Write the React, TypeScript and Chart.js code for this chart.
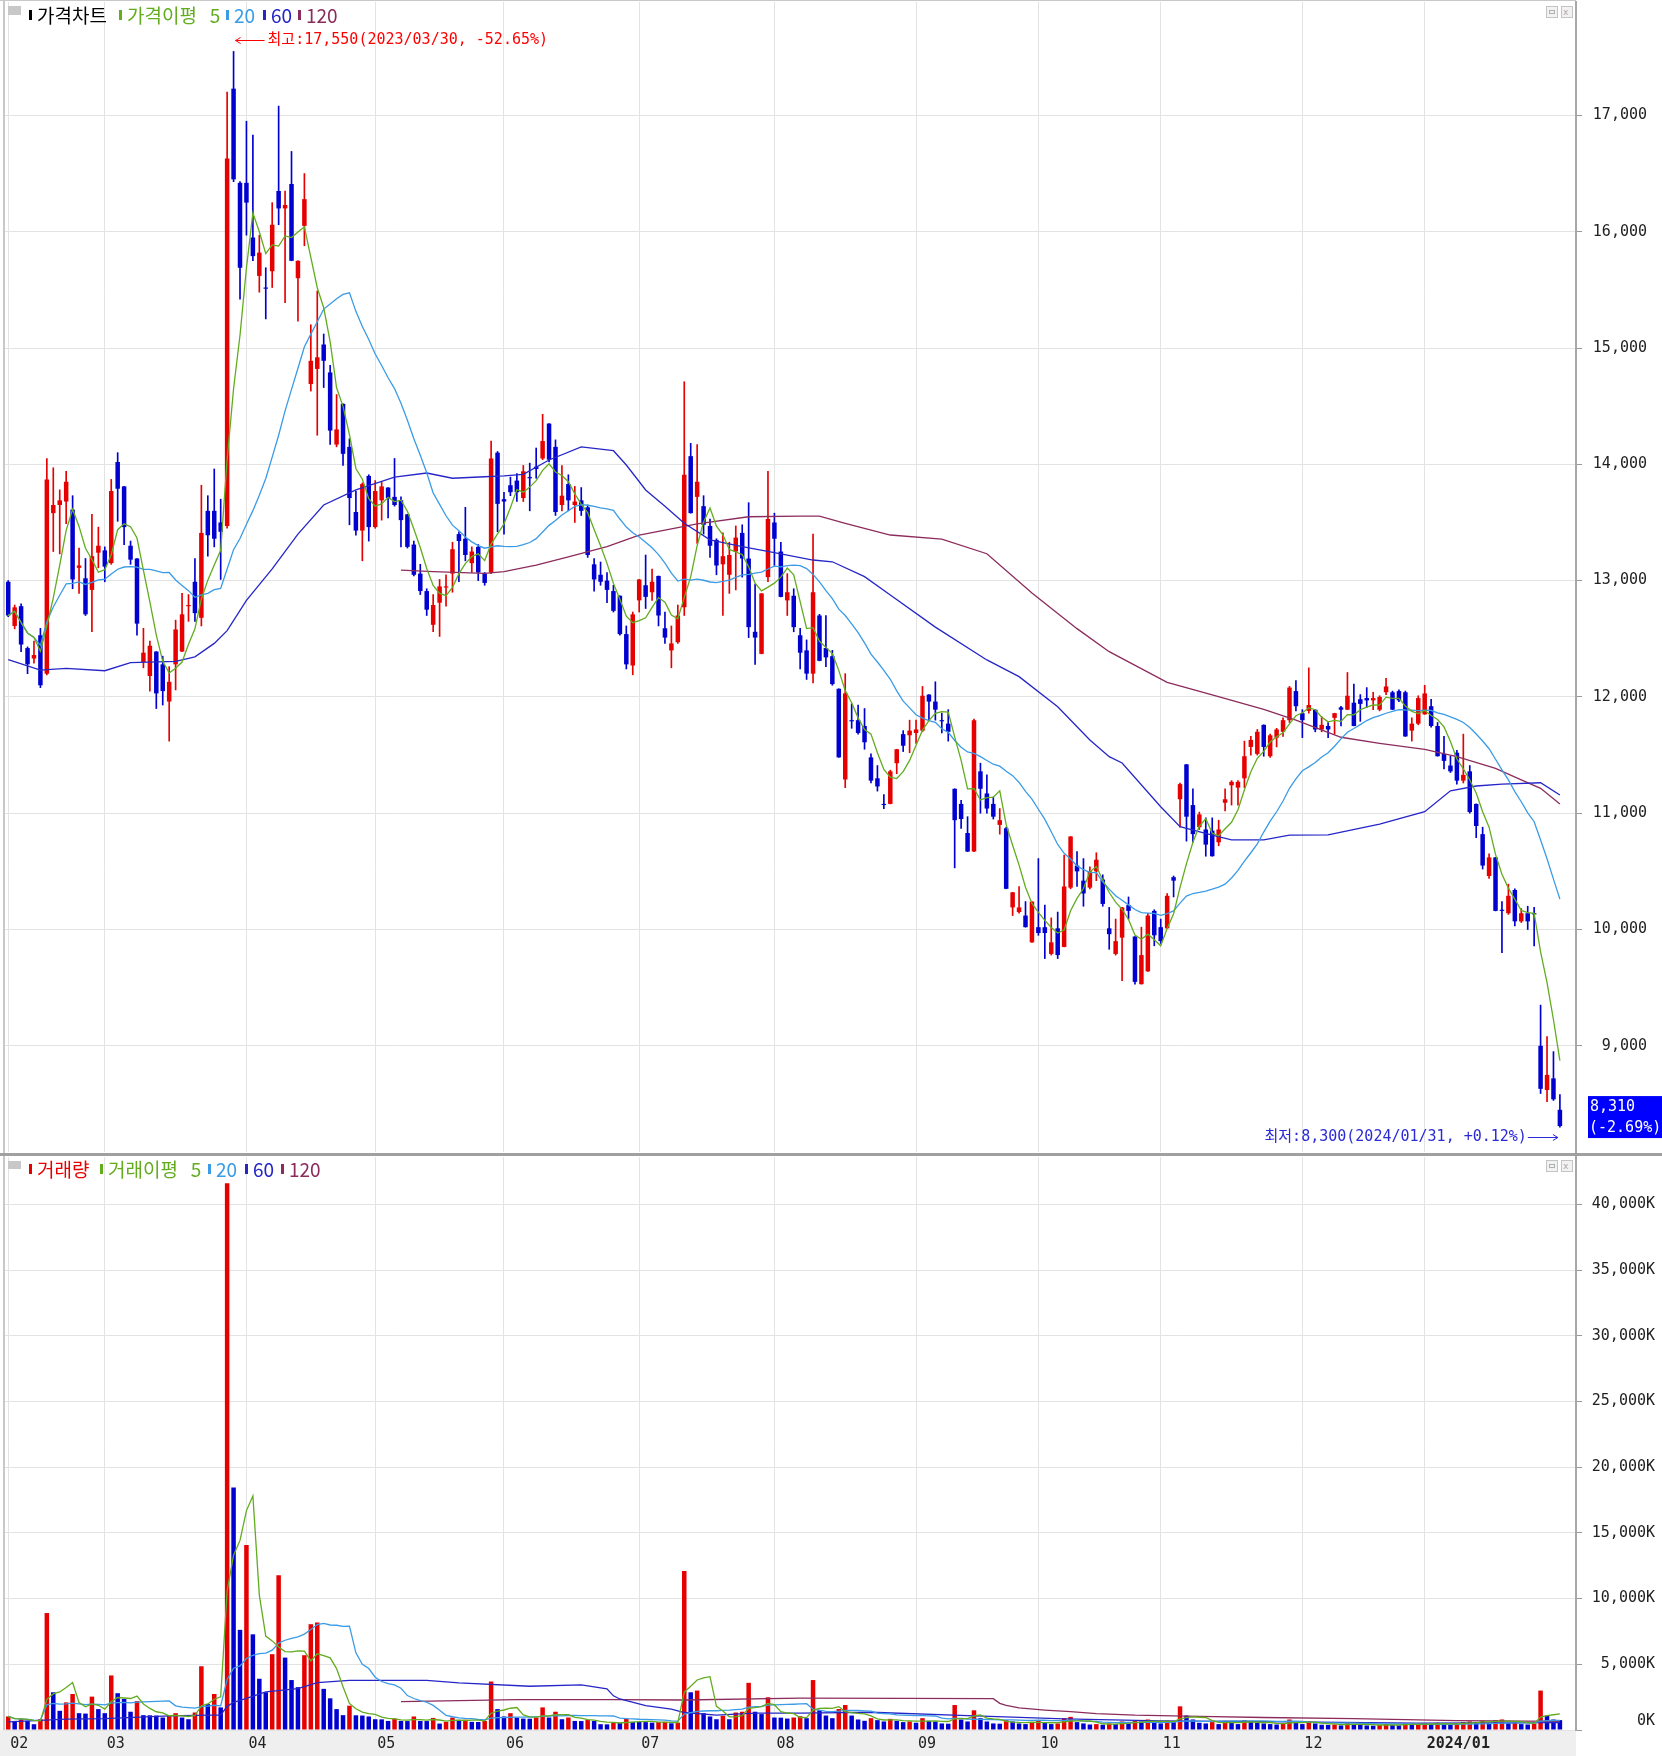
import React, { useEffect, useRef } from 'react';
import { Chart, registerables } from 'chart.js';

Chart.register(...registerables);

// ---------------- data ----------------
const monthLabels = ['02', '03', '04', '05', '06', '07', '08', '09', '10', '11', '12', '2024/01'];
const monthStartIndex = [0, 15, 37, 57, 77, 98, 119, 141, 160, 179, 201, 220];

const opens = [
  12990, 12610, 12780, 12420, 12330, 12530, 12200, 13580, 13650, 13680,
  13610, 13110, 13020, 12920, 13240, 13260, 13150, 14020, 13810, 13300,
  13190, 12300, 12180, 12390, 12280, 11960, 12280, 12390, 12780, 12990,
  12680, 13600, 13600, 13500, 13470, 17230, 16420, 16420, 15950, 15620,
  15520, 15660, 16350, 16200, 16410, 15600, 16050, 14690, 14820, 15030,
  14790, 14170, 14520, 14150, 13590, 13430, 13900, 13460, 13690, 13800,
  13720, 13690, 13570, 13310, 13060, 12910, 12620, 12810, 12940, 13060,
  13400, 13360, 13150, 13290, 13060, 13070, 14100, 13700, 13820, 13860,
  13710, 13890, 13980, 14050, 14350, 14150, 13650, 13830, 13650, 13690,
  13630, 13140, 13050, 13000, 12910, 12870, 12540, 12270, 12830, 12960,
  12900, 13040, 12590, 12400, 12470, 12770, 14070, 13720, 13640, 13470,
  13350, 13140, 13050, 13250, 13410, 13190, 12560, 12370, 13030, 13500,
  13250, 12830, 12870, 12530, 12400, 12200, 12700, 12420, 12350, 12070,
  11290, 11800, 11800, 11750, 11480, 11300, 11080, 11080, 11430, 11680,
  11670, 11690, 11710, 12020, 11960, 11800, 11770, 11210, 11080, 10830,
  10670, 11360, 11170, 11080, 10900, 10870, 10190, 10150, 10120, 9890,
  10020, 10020, 9790, 10010, 9850, 10360, 10550, 10420, 10360, 10500,
  10430, 10010, 9790, 9930, 10210, 9940, 9530, 9640, 10160, 10020,
  10010, 10450, 11120, 11420, 11070, 10880, 10860, 10850, 10750, 11090,
  11240, 11220, 11300, 11570, 11510, 11760, 11490, 11650, 11700, 11800,
  12050, 11860, 11880, 11890, 11720, 11750, 11820, 11910, 11890, 11950,
  11980, 11990, 11970, 11890, 12040, 12040, 12050, 12040, 11710, 11770,
  11850, 11920, 11750, 11510, 11410, 11520, 11280, 11360, 11080, 10820,
  10460, 10620, 10170, 10140, 10340, 10070, 10140, 10140, 9000, 8620,
  8720, 8450,
];

const highs = [
  13000, 12790, 12800, 12430, 12480, 12590, 14050, 13970, 13780, 13940,
  13730, 13280, 13190, 13570, 13460, 13290, 13870, 14100, 13810, 13340,
  13190, 12590, 12480, 12390, 12350, 12260, 12660, 12890, 12880, 13190,
  13820, 13730, 13960, 13700, 17200, 17550, 16430, 16950, 16830, 15970,
  15690, 16250, 17080, 16350, 16690, 15750, 16500, 15200, 15490, 15120,
  14850, 14600, 14520, 14220, 13770, 13840, 13910, 13860, 13850, 13800,
  14050, 13720, 13570, 13340, 13140, 12930, 12880, 13010, 13050, 13330,
  13420, 13630, 13290, 13310, 13070, 14200, 14110, 13760, 13890, 13920,
  13990, 14010, 14140, 14430, 14350, 14210, 13990, 13910, 13810, 13800,
  13650, 13190, 13160, 13070, 12960, 12870, 12610, 12730, 13010, 13220,
  13100, 13040, 12730, 12610, 12790, 14710, 14180, 14170, 13730, 13530,
  13360, 13410, 13330, 13470, 13480, 13670, 12970, 12890, 13940, 13580,
  13330, 13060, 12930, 12590, 12490, 13400, 12710, 12700, 12400, 12070,
  12200, 11940, 11930, 11900, 11510, 11410, 11160, 11370, 11550, 11710,
  11800, 11800, 12090, 12020, 12130, 11860, 11890, 11210, 11110, 10970,
  11810, 11430, 11330, 11140, 11040, 10880, 10320, 10370, 10240, 10240,
  10610, 10210, 10100, 10150, 10640, 10800, 10670, 10610, 10540, 10660,
  10470, 10190, 10090, 10190, 10280, 9940, 10020, 10140, 10170, 10090,
  10310, 10460, 11260, 11420, 11210, 11010, 10960, 10960, 10940, 11210,
  11280, 11280, 11620, 11660, 11720, 11760, 11680, 11730, 11820, 12090,
  12140, 11890, 12250, 11890, 11830, 11780, 11860, 11920, 12210, 12110,
  12020, 12080, 12040, 12010, 12160, 12050, 12060, 12050, 11820, 12010,
  12100, 11980, 11780, 11660, 11490, 11540, 11680, 11410, 11080, 10880,
  10650, 10620, 10240, 10390, 10350, 10180, 10200, 10190, 9350, 9080,
  8950, 8580,
];

const lows = [
  12690, 12585, 12390, 12200, 12290, 12080, 12190, 13250, 13230, 13490,
  12930, 12890, 12700, 12560, 13110, 12990, 13140, 13510, 13310, 13140,
  12530, 12250, 12050, 11900, 11930, 11620, 12060, 12390, 12650, 12650,
  12610, 13210, 13290, 13010, 13450, 16430, 15420, 15970, 15750, 15480,
  15250, 15520, 16060, 15390, 15750, 15230, 15880, 14630, 14250, 14660,
  14170, 14150, 13990, 13480, 13390, 13170, 13340, 13450, 13520, 13540,
  13640, 13290, 13280, 13040, 12880, 12700, 12560, 12520, 12780, 12900,
  12990, 13170, 13070, 13000, 12960, 13060, 13420, 13400, 13730, 13680,
  13680, 13600, 13880, 14040, 14020, 13560, 13600, 13600, 13500, 13560,
  13200, 12910, 12960, 12810, 12730, 12530, 12240, 12190, 12730, 12760,
  12830, 12610, 12460, 12250, 12460, 12700, 13580, 13320, 13400, 13200,
  13050, 12700, 12890, 12920, 13030, 12510, 12280, 12370, 12990, 13130,
  12860, 12700, 12560, 12240, 12150, 12120, 12310, 12260, 12100, 11480,
  11220, 11730, 11680, 11550, 11260, 11190, 11040, 11080, 11340, 11530,
  11520, 11600, 11700, 11800, 11800, 11690, 11620, 10530, 10870, 10670,
  10670, 11000, 11000, 10950, 10820, 10350, 10120, 10140, 10020, 9890,
  9950, 9750, 9780, 9750, 9850, 10350, 10370, 10200, 10350, 10420,
  10200, 9830, 9780, 9560, 10090, 9530, 9530, 9640, 9860, 9880,
  10010, 10280, 10880, 10760, 10750, 10860, 10630, 10630, 10720, 11020,
  11070, 11070, 11220, 11500, 11500, 11490, 11480, 11570, 11660, 11780,
  11880, 11650, 11860, 11700, 11700, 11650, 11680, 11750, 11890, 11750,
  11790, 11910, 11890, 11880, 12020, 11890, 11960, 11660, 11620, 11760,
  11850, 11740, 11490, 11380, 11350, 11250, 11260, 11000, 10790, 10520,
  10440, 10160, 9800, 10130, 10030, 10060, 10000, 9860, 8590, 8520,
  8530, 8300,
];

const closes = [
  12700, 12770, 12450, 12280, 12360, 12100, 13870, 13650, 13690, 13850,
  13010, 13130, 12710, 13210, 13300, 13120, 13770, 13790, 13460, 13180,
  12630, 12380, 12440, 12030, 12050, 12130, 12580, 12710, 12790, 12720,
  13410, 13390, 13360, 13420, 16630, 16450, 15690, 16250, 15790, 15820,
  15510, 16060, 16200, 16230, 15750, 15750, 16280, 14890, 14920, 14890,
  14290, 14300, 14090, 13710, 13430, 13830, 13460, 13770, 13810, 13710,
  13650, 13520, 13290, 13050, 12910, 12750, 12790, 12950, 12950, 13270,
  13340, 13220, 13250, 13070, 12980, 14050, 13660, 13680, 13760, 13760,
  13940, 13880, 13960, 14200, 14040, 13590, 13730, 13690, 13680, 13600,
  13220, 13010, 12990, 12920, 12740, 12540, 12280, 12710, 13010, 12860,
  12990, 12700, 12510, 12460, 12700, 13910, 13580, 13850, 13480, 13300,
  13130, 13210, 13220, 13370, 13190, 12600, 12510, 12890, 13530, 13360,
  12860, 12900, 12600, 12380, 12200, 12900, 12310, 12340, 12110, 11480,
  12030, 11790, 11690, 11610, 11280, 11230, 11070, 11360, 11550, 11580,
  11710, 11720, 12010, 11960, 11890, 11790, 11700, 10940, 10950, 10670,
  11800, 11210, 11040, 10970, 10940, 10350, 10320, 10190, 10020, 10240,
  9970, 9970, 9890, 9780, 10370, 10800, 10500, 10310, 10500, 10600,
  10220, 9960, 9900, 10190, 10160, 9550, 9780, 10120, 9950, 9900,
  10290, 10420, 11250, 10970, 10820, 10990, 10730, 10630, 10860, 11120,
  11270, 11270, 11490, 11630, 11700, 11570, 11670, 11720, 11800, 12080,
  11920, 11800, 11930, 11720, 11760, 11720, 11860, 11890, 12010, 11750,
  11940, 11970, 11990, 12000, 12090, 11890, 11970, 11660, 11770, 11990,
  12030, 11750, 11490, 11450, 11360, 11280, 11330, 11010, 10890, 10550,
  10620, 10160, 10160, 10290, 10070, 10140, 10070, 10130, 8630, 8750,
  8540, 8310,
];

// volume in thousands of shares
const volumes = [
  1030, 690, 820, 690, 440, 820, 8900, 2870, 1460, 2100,
  2740, 1280, 1250, 2540, 1590, 1280, 4150, 2800, 2360, 1390,
  2200, 1130, 1120, 1100, 950, 1130, 1280, 950, 820, 1330,
  4850, 1970, 2740, 1720, 41600, 18460, 7620, 14080, 7280, 3900,
  2870, 5770, 11770, 5510, 3800, 3260, 5690, 8050, 8180, 3130,
  2410, 1590, 1130, 1850, 1120, 1100, 1030, 820, 810, 690,
  870, 690, 680, 1030, 690, 680, 920, 490, 620, 950,
  770, 780, 620, 610, 690, 3690, 1590, 1030, 1280, 950,
  870, 860, 950, 1720, 950, 1390, 820, 950, 690, 680,
  770, 690, 440, 430, 560, 550, 870, 620, 610, 600,
  560, 610, 620, 510, 560, 12100, 2870, 3000, 1280, 1030,
  820, 1080, 820, 1330, 1390, 3590, 1390, 1210, 2490, 950,
  940, 870, 950, 1050, 900, 3800, 1500, 1100, 900, 1600,
  1900, 1100, 800, 700, 900, 750, 650, 850, 700, 600,
  650, 550, 900, 700, 650, 500, 480, 1900, 800, 650,
  1500, 900, 650, 500, 480, 750, 650, 500, 450, 600,
  700, 550, 450, 500, 900, 1000, 600, 500, 420, 450,
  400, 500, 450, 650, 500, 700, 650, 800, 600, 500,
  700, 600, 1800, 1100, 800, 550, 500, 600, 450, 700,
  600, 450, 750, 600, 550, 500, 450, 420, 500, 800,
  600, 450, 650, 500, 400, 380, 420, 350, 550, 450,
  400, 350, 330, 380, 450, 400, 350, 500, 420, 450,
  500, 420, 550, 480, 400, 520, 600, 650, 600, 700,
  550, 750, 800, 550, 600, 450, 420, 480, 3000, 1100,
  800, 750,
];

// long moving averages (trading-day number, value)
const priceMa60Day = [1, 6, 10, 16, 20, 27, 30, 33, 35, 38, 42, 46, 50, 55, 61, 66, 70, 75, 78, 81, 85, 90, 95, 97, 100, 103, 106, 110, 115, 120, 126, 129, 134, 138, 145, 153, 158, 164, 169, 172, 174, 180, 183, 188, 191, 196, 200, 206, 214, 221, 225, 229, 233, 239, 242];
const priceMa60Value = [12320, 12230, 12245, 12225, 12295, 12305, 12345, 12460, 12570, 12830, 13100, 13400, 13650, 13780, 13890, 13925, 13880, 13893, 13900, 13914, 14037, 14150, 14117, 13994, 13779, 13640, 13493, 13350, 13292, 13240, 13177, 13162, 13034, 12876, 12600, 12318, 12174, 11916, 11630, 11486, 11432, 11056, 10884, 10812, 10770, 10770, 10812, 10813, 10907, 11013, 11193, 11234, 11250, 11262, 11157];

const priceMa120Day = [62, 67, 75, 78, 83, 88, 94, 99, 103, 108, 116, 124, 127, 131, 138, 146, 153, 160, 167, 172, 181, 188, 196, 201, 208, 214, 221, 226, 232, 236, 239, 242];
const priceMa120Value = [13090, 13077, 13063, 13077, 13134, 13205, 13292, 13392, 13435, 13487, 13549, 13555, 13555, 13493, 13392, 13356, 13231, 12894, 12587, 12389, 12125, 12017, 11893, 11801, 11653, 11601, 11549, 11486, 11386, 11286, 11214, 11079];

const volumeMa60Day = [1, 10, 16, 26, 32, 34, 35, 36, 38, 41, 46, 49, 54, 66, 71, 82, 90, 94, 95, 96, 100, 104, 106, 111, 117, 124, 135, 150, 165, 180, 200, 220, 242];
const volumeMa60Value = [615, 820, 872, 1077, 1128, 1130, 1800, 2100, 2400, 2900, 3150, 3600, 3770, 3770, 3590, 3330, 3430, 3130, 2600, 2360, 1850, 1590, 1330, 1130, 1280, 1280, 1350, 1100, 850, 700, 620, 520, 560];

const volumeMa120Day = [62, 80, 95, 106, 124, 140, 154, 155, 156, 158, 162, 166, 170, 176, 186, 196, 210, 226, 242];
const volumeMa120Value = [2154, 2308, 2308, 2282, 2420, 2400, 2380, 2030, 1880, 1680, 1520, 1400, 1250, 1130, 1040, 950, 860, 720, 650];

const priceTicks = [9000, 10000, 11000, 12000, 13000, 14000, 15000, 16000, 17000];
const volumeTicks = [0, 5000, 10000, 15000, 20000, 25000, 30000, 35000, 40000];
const highDate = '2023/03/30';
const lowDate = '2024/01/31';

// ---------------- styles ----------------
const W = 1662;
const PRICE_H = 1153;
const VOL_TOP = 1156;
const VOL_H = 600;
const AXIS_W = 86;
const PRICE_PAD_R = 15;
const VOL_PAD_R = 7;
const SLOTS = 244;
const UP = '#e60000';
const DOWN = '#0000d0';
const C_MA5 = '#62ac1e';
const C_MA20 = '#3a9be6';
const C_MA60 = '#2626c8';
const C_MA120 = '#8c2c5c';
const GRID = '#e3e3e3';
const MONO = "'DejaVu Sans Mono', 'Noto Sans CJK KR', monospace";
const KR = "'Noto Sans CJK KR', 'Noto Sans', sans-serif";

const fmt = (v: number) => v.toLocaleString('en-US');
const pct = (a: number, b: number) => {
  const p = (a / b - 1) * 100;
  return (p >= 0 ? '+' : '') + p.toFixed(2) + '%';
};

function movingAverage(values: number[], n: number) {
  return values.map((_, i) => {
    const s = Math.max(0, i - n + 1);
    let sum = 0;
    for (let k = s; k <= i; k++) sum += values[k];
    return sum / (i - s + 1);
  });
}

function sparseLine(days: number[], vals: number[], len: number) {
  const arr: (number | null)[] = new Array(len).fill(null);
  days.forEach((d, j) => { arr[d - 1] = vals[j]; });
  return arr;
}

const labels = Array.from({ length: SLOTS }, (_, i) => String(i));

const xGrid = {
  display: true,
  offset: false,
  drawTicks: false,
  lineWidth: 1,
  color: (c: any) => (monthStartIndex.includes(c.index) ? GRID : 'rgba(0,0,0,0)'),
};

const zeroPad = (s: any) => {
  s.paddingTop = 0;
  s.paddingBottom = 0;
  s.paddingLeft = 0;
  s.paddingRight = 0;
};

const lineDs = (label: string, data: any[], color: string) => ({
  type: 'line' as const,
  label,
  data,
  borderColor: color,
  borderWidth: 1.3,
  pointRadius: 0,
  tension: 0,
  spanGaps: true,
  order: 0,
});

function drawArrow(ctx: CanvasRenderingContext2D, fromX: number, toX: number, y: number) {
  const yy = Math.round(y) + 0.5;
  const dir = toX > fromX ? 1 : -1;
  ctx.beginPath();
  ctx.moveTo(fromX, yy);
  ctx.lineTo(toX, yy);
  ctx.moveTo(toX, yy);
  ctx.lineTo(toX - dir * 5, yy - 3);
  ctx.moveTo(toX, yy);
  ctx.lineTo(toX - dir * 5, yy + 3);
  ctx.stroke();
}

const priceDecor = {
  id: 'priceDecor',
  afterDraw(chart: any) {
    const { ctx, chartArea, scales } = chart;
    const xs = scales.x;
    const ys = scales.y;
    ctx.save();
    ctx.fillStyle = '#c8c8c8';
    ctx.fillRect(3, 0, 2, chartArea.bottom + 1);
    ctx.fillRect(0, 0, chartArea.right, 1);

    const hi = Math.max(...highs);
    const hiIdx = highs.indexOf(hi);
    const lo = Math.min(...lows);
    const loIdx = lows.indexOf(lo);
    const last = closes[closes.length - 1];
    const prev = closes[closes.length - 2];

    ctx.font = `15px ${MONO}`;
    ctx.textBaseline = 'middle';
    ctx.lineWidth = 1;

    const hx = xs.getPixelForValue(hiIdx);
    const hy = ys.getPixelForValue(hi) - 11;
    ctx.strokeStyle = '#ff0000';
    ctx.fillStyle = '#ff0000';
    drawArrow(ctx, hx + 31, hx + 2, hy);
    ctx.textAlign = 'left';
    ctx.fillText(`최고:${fmt(hi)}(${highDate}, ${pct(last, hi)})`, hx + 34, hy);

    const lx = xs.getPixelForValue(loIdx);
    const ly = ys.getPixelForValue(lo) + 10;
    ctx.strokeStyle = '#2a2ad6';
    ctx.fillStyle = '#2a2ad6';
    drawArrow(ctx, lx - 32, lx - 2, ly);
    ctx.textAlign = 'right';
    ctx.fillText(`최저:${fmt(lo)}(${lowDate}, ${pct(last, lo)})`, lx - 33, ly);

    const cy = ys.getPixelForValue(last);
    const bx = chartArea.right + 12;
    ctx.fillStyle = '#0000ff';
    ctx.fillRect(bx, cy - 30, W - bx, 42);
    ctx.fillStyle = '#ffffff';
    ctx.textAlign = 'left';
    ctx.fillText(fmt(last), bx + 2, cy - 19);
    ctx.fillText(`(${pct(last, prev)})`, bx + 1, cy + 2);
    ctx.restore();
  },
};

const volumeDecor = {
  id: 'volumeDecor',
  beforeDraw(chart: any) {
    const { ctx, chartArea, height } = chart;
    ctx.save();
    ctx.fillStyle = '#efefef';
    ctx.fillRect(0, chartArea.bottom, chartArea.right, height - chartArea.bottom);
    ctx.restore();
  },
  afterDraw(chart: any) {
    const { ctx, chartArea } = chart;
    ctx.save();
    ctx.fillStyle = '#c8c8c8';
    ctx.fillRect(3, 0, 2, chartArea.bottom);
    ctx.restore();
  },
};

function PriceChart() {
  const ref = useRef<HTMLCanvasElement>(null);
  useEffect(() => {
    const candleColor = (c: any) => (closes[c.dataIndex] >= opens[c.dataIndex] ? UP : DOWN);
    const chart = new Chart(ref.current as HTMLCanvasElement, {
      type: 'bar',
      data: {
        labels,
        datasets: [
          lineDs('5', movingAverage(closes, 5), C_MA5),
          lineDs('20', movingAverage(closes, 20), C_MA20),
          lineDs('60', sparseLine(priceMa60Day, priceMa60Value, closes.length), C_MA60),
          lineDs('120', sparseLine(priceMa120Day, priceMa120Value, closes.length), C_MA120),
          {
            type: 'bar',
            label: 'body',
            data: opens.map((o, i) => [o, closes[i]]),
            backgroundColor: candleColor,
            borderWidth: 0,
            barPercentage: 0.7,
            categoryPercentage: 1,
            minBarLength: 1,
            grouped: false,
            order: 1,
          },
          {
            type: 'bar',
            label: 'wick',
            data: lows.map((l, i) => [l, highs[i]]),
            backgroundColor: candleColor,
            borderWidth: 0,
            barThickness: 1,
            grouped: false,
            order: 2,
          },
        ] as any,
      },
      options: {
        animation: false,
        responsive: false,
        maintainAspectRatio: false,
        devicePixelRatio: 1,
        events: [],
        layout: { padding: { left: 5, right: PRICE_PAD_R, top: 2, bottom: 1 } },
        plugins: { legend: { display: false }, tooltip: { enabled: false } },
        scales: {
          x: {
            type: 'category',
            offset: true,
            grid: xGrid as any,
            border: { display: false },
            ticks: { display: false },
            afterFit: (s: any) => { s.height = 0; zeroPad(s); },
          },
          y: {
            position: 'right',
            min: 8087,
            max: 17975,
            afterBuildTicks: (s: any) => { s.ticks = priceTicks.map((v) => ({ value: v })); },
            afterFit: (s: any) => { s.width = AXIS_W - PRICE_PAD_R; zeroPad(s); },
            ticks: {
              font: { family: MONO, size: 15 },
              color: '#222',
              padding: 0,
              crossAlign: 'far',
              callback: (v: any) => fmt(Number(v)),
            },
            grid: { color: GRID, tickColor: '#9a9a9a', tickLength: 6, drawTicks: true },
            border: { display: true, color: '#a8a8a8', width: 2 },
          },
        },
      } as any,
      plugins: [priceDecor],
    });
    return () => chart.destroy();
  }, []);
  return (
    <canvas
      ref={ref}
      width={W}
      height={PRICE_H}
      style={{ position: 'absolute', left: 0, top: 0, width: W, height: PRICE_H, display: 'block' }}
    />
  );
}

function VolumeChart() {
  const ref = useRef<HTMLCanvasElement>(null);
  useEffect(() => {
    const volColors = volumes.map((v, i) => (i === 0 || v > volumes[i - 1] ? UP : DOWN));
    const chart = new Chart(ref.current as HTMLCanvasElement, {
      type: 'bar',
      data: {
        labels,
        datasets: [
          lineDs('5', movingAverage(volumes, 5), C_MA5),
          lineDs('20', movingAverage(volumes, 20), C_MA20),
          lineDs('60', sparseLine(volumeMa60Day, volumeMa60Value, volumes.length), C_MA60),
          lineDs('120', sparseLine(volumeMa120Day, volumeMa120Value, volumes.length), C_MA120),
          {
            type: 'bar',
            label: 'volume',
            data: volumes,
            backgroundColor: volColors,
            borderWidth: 0,
            barPercentage: 0.7,
            categoryPercentage: 1,
            grouped: false,
            order: 1,
          },
        ] as any,
      },
      options: {
        animation: false,
        responsive: false,
        maintainAspectRatio: false,
        devicePixelRatio: 1,
        events: [],
        layout: { padding: { left: 5, right: VOL_PAD_R, top: 1, bottom: 0 } },
        plugins: { legend: { display: false }, tooltip: { enabled: false } },
        scales: {
          x: {
            type: 'category',
            offset: true,
            grid: xGrid as any,
            border: { display: false },
            ticks: {
              autoSkip: false,
              maxRotation: 0,
              minRotation: 0,
              align: 'start',
              labelOffset: 2,
              padding: 5,
              color: '#222',
              font: (c: any) => ({
                family: MONO,
                size: 15,
                weight: c.tick && c.tick.label === '2024/01' ? 'bold' : 'normal',
              }),
              callback: (_v: any, i: number) => {
                const k = monthStartIndex.indexOf(i);
                return k >= 0 ? monthLabels[k] : '';
              },
            },
            afterFit: (s: any) => { s.height = 26; zeroPad(s); },
          },
          y: {
            position: 'right',
            min: 0,
            max: 43600,
            afterBuildTicks: (s: any) => { s.ticks = volumeTicks.map((v) => ({ value: v })); },
            afterFit: (s: any) => { s.width = AXIS_W - VOL_PAD_R; zeroPad(s); },
            ticks: {
              font: { family: MONO, size: 15 },
              color: '#222',
              padding: 0,
              crossAlign: 'far',
              callback: (v: any) => (Number(v) === 0 ? ['0K', ''] : `${fmt(Number(v))}K`),
            },
            grid: { color: GRID, tickColor: '#9a9a9a', tickLength: 6, drawTicks: true },
            border: { display: true, color: '#a8a8a8', width: 2 },
          },
        },
      } as any,
      plugins: [volumeDecor],
    });
    return () => chart.destroy();
  }, []);
  return (
    <canvas
      ref={ref}
      width={W}
      height={VOL_H}
      style={{ position: 'absolute', left: 0, top: VOL_TOP, width: W, height: VOL_H, display: 'block' }}
    />
  );
}

function LegendItem(props: { left: number; top: number; color: string; text: string }) {
  return (
    <div
      style={{
        position: 'absolute',
        left: props.left,
        top: props.top,
        height: 20,
        display: 'flex',
        alignItems: 'center',
        whiteSpace: 'pre',
      }}
    >
      <span style={{ display: 'inline-block', width: 3, height: 10, background: props.color, marginRight: 5 }} />
      <span style={{ color: props.color, fontFamily: KR, fontSize: 19, lineHeight: '20px', whiteSpace: 'pre' }}>{props.text}</span>
    </div>
  );
}

function PanelIcons(props: { top: number }) {
  const box = (left: number, inner: React.ReactNode) => (
    <div
      style={{
        position: 'absolute',
        left,
        top: props.top,
        width: 10,
        height: 10,
        border: '1px solid #c4c4c4',
        background: '#f2f2f2',
        boxSizing: 'content-box',
      }}
    >
      {inner}
    </div>
  );
  return (
    <>
      {box(1546, <div style={{ position: 'absolute', left: 2, top: 3, width: 6, height: 4, border: '1px solid #b0b0b0', boxSizing: 'border-box' }} />)}
      {box(1561, <div style={{ position: 'absolute', left: 1, top: 1, fontSize: 9, lineHeight: '8px', color: '#a8a8a8', fontFamily: MONO }}>x</div>)}
    </>
  );
}

export default function App() {
  const legendTop = 5;
  const volLegendTop = 1159;
  return (
    <div style={{ position: 'absolute', left: 0, top: 0, width: W, height: 1756, background: '#ffffff', overflow: 'hidden' }}>
      <PriceChart />
      <div style={{ position: 'absolute', left: 0, top: PRICE_H, width: W, height: 3, background: '#a0a0a0' }} />
      <VolumeChart />

      <div style={{ position: 'absolute', left: 8, top: 6, width: 13, height: 9, background: '#c8c8c8' }} />
      <LegendItem left={29} top={legendTop} color="#000000" text="가격차트" />
      <LegendItem left={119} top={legendTop} color={C_MA5} text={'가격이평   5'} />
      <LegendItem left={226} top={legendTop} color={C_MA20} text="20" />
      <LegendItem left={263} top={legendTop} color={C_MA60} text="60" />
      <LegendItem left={298} top={legendTop} color={C_MA120} text="120" />
      <PanelIcons top={6} />

      <div style={{ position: 'absolute', left: 8, top: 1161, width: 13, height: 8, background: '#c8c8c8' }} />
      <LegendItem left={29} top={volLegendTop} color={UP} text="거래량" />
      <LegendItem left={100} top={volLegendTop} color={C_MA5} text={'거래이평   5'} />
      <LegendItem left={208} top={volLegendTop} color={C_MA20} text="20" />
      <LegendItem left={245} top={volLegendTop} color={C_MA60} text="60" />
      <LegendItem left={281} top={volLegendTop} color={C_MA120} text="120" />
      <PanelIcons top={1160} />
    </div>
  );
}
